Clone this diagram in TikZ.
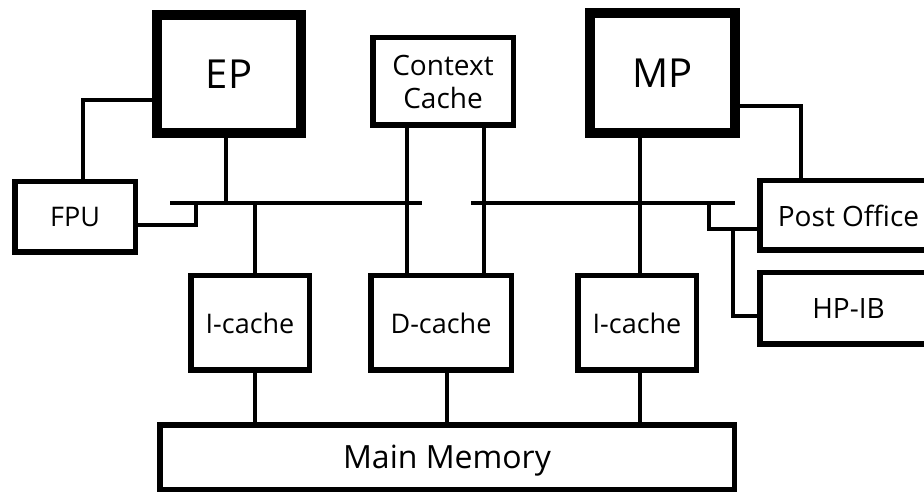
\documentclass[tikz,border=0pt]{standalone}
\usepackage{fontspec}
\setmainfont{Open Sans}
\tikzset{
  thickbox/.style={draw, line width=10pt, inner sep=0pt, text depth=0pt},
  plainbox/.style={draw, line width=5.5pt, inner sep=0pt, text depth=0pt},
  wire/.style={line width=3.5pt},
  buswire/.style={line width=4pt},
  smallfont/.style={font=\fontsize{27}{30}\selectfont},
}
\begin{document}
\begin{tikzpicture}[x=1pt,y=-1pt]
\useasboundingbox[fill=white] (0,0) rectangle (924,494);
% processors
\node[thickbox, minimum width=144pt, minimum height=118pt, font=\fontsize{40}{44}\selectfont] (EP) at (229,74) {EP};
\node[thickbox, minimum width=145pt, minimum height=120pt, font=\fontsize{40}{44}\selectfont] (MP) at (662.5,73) {MP};
% other boxes
\node[plainbox, minimum width=140.5pt, minimum height=87.5pt, align=center, font=\fontsize{28}{33}\selectfont] (CC) at (443,81.5) {Context\\Cache};
\node[plainbox, smallfont, minimum width=120.5pt, minimum height=70.5pt] (FPU) at (75,217) {FPU};
\node[plainbox, smallfont, minimum width=118.5pt, minimum height=94.5pt] (IcL) at (250,323) {I-cache};
\node[plainbox, smallfont, minimum width=140.5pt, minimum height=94.5pt] (Dc) at (441,323) {D-cache};
\node[plainbox, smallfont, minimum width=118.5pt, minimum height=94.5pt] (IcR) at (637,323) {I-cache};
\node[plainbox, minimum width=177.5pt, minimum height=69.5pt, font=\fontsize{28}{32}\selectfont] (PO) at (848.5,215.5) {Post Office};
\node[plainbox, minimum width=177.5pt, minimum height=71.5pt, font=\fontsize{28}{32}\selectfont] (HP) at (848.5,308.5) {HP-IB};
\node[plainbox, minimum width=574.5pt, minimum height=64.5pt, font=\fontsize{32}{36}\selectfont] (MM) at (447,457) {Main Memory};
% buses
\coordinate (busL1) at (170,203);
\coordinate (busL2) at (422,203);
\coordinate (busR1) at (471,203);
\coordinate (busR2) at (735,203);
\draw[buswire] (busL1) -- (busL2);
\draw[buswire] (busR1) -- (busR2);
% connectors
\draw[wire] (EP.west |- 0,100) -| (FPU.north -| 83,0);
\draw[wire] (EP.south -| 226,0) -- (busL1 -| 226,0);
\draw[wire] (FPU.east |- 0,225) -| (busL1 -| 196,0);
\draw[wire] (busL1 -| 255,0) -- (IcL.north -| 255,0);
\draw[wire] (CC.south -| 407,0) -- (Dc.north -| 407,0);
\draw[wire] (CC.south -| 484,0) -- (Dc.north -| 484,0);
\draw[wire] (MP.south -| 640,0) -- (IcR.north -| 640,0);
\draw[wire] (MP.east |- 0,106) -| (PO.north -| 801,0);
\draw[wire] (busR2 -| 709,0) |- (PO.west |- 0,229);
\coordinate (jn) at (733,229);
\draw[wire] (jn) |- (HP.west |- 0,316);
\draw[wire] (IcL.south -| 255,0) -- (MM.north -| 255,0);
\draw[wire] (Dc.south -| 447,0) -- (MM.north -| 447,0);
\draw[wire] (IcR.south -| 640,0) -- (MM.north -| 640,0);
\end{tikzpicture}
\end{document}
